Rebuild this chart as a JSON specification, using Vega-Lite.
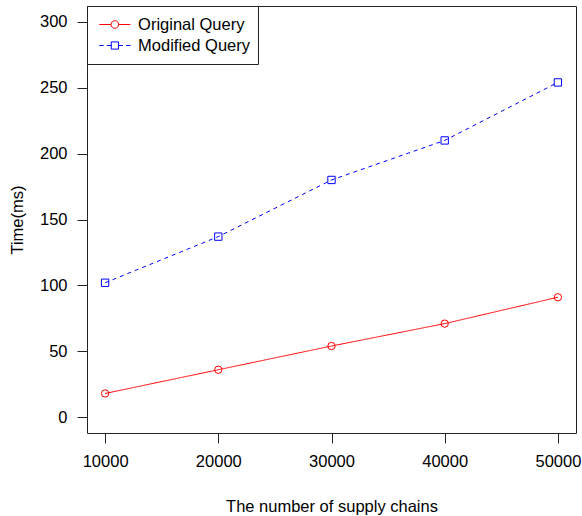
{
  "$schema": "https://vega.github.io/schema/vega-lite/v6.json",
  "width": 489,
  "height": 427,
  "autosize": {"type": "none"},
  "padding": {"left": 87, "top": 6, "right": 6, "bottom": 83},
  "background": "white",
  "config": {
    "font": "Liberation Sans",
    "view": {"stroke": "#222", "strokeWidth": 1},
    "axis": {
      "grid": false,
      "domain": false,
      "tickColor": "#222",
      "tickSize": 10,
      "labelFont": "Liberation Sans",
      "labelFontSize": 16.5,
      "labelColor": "#000",
      "titleFont": "Liberation Sans",
      "titleFontSize": 16.5,
      "titleFontWeight": "normal",
      "titleColor": "#000"
    },
    "legend": {
      "orient": "top-left",
      "offset": 0,
      "padding": 8,
      "strokeColor": "#222",
      "fillColor": "white",
      "labelFont": "Liberation Sans",
      "labelFontSize": 16.5,
      "labelColor": "#000",
      "labelLimit": 300,
      "symbolSize": 64,
      "symbolStrokeWidth": 1,
      "symbolOffset": 11.6,
      "labelOffset": 15,
      "rowPadding": 0,
      "clipHeight": 21
    }
  },
  "data": {
    "values": [
      {"series": "Original Query", "n": 10000, "time": 18},
      {"series": "Original Query", "n": 20000, "time": 36},
      {"series": "Original Query", "n": 30000, "time": 54},
      {"series": "Original Query", "n": 40000, "time": 71},
      {"series": "Original Query", "n": 50000, "time": 91},
      {"series": "Modified Query", "n": 10000, "time": 102},
      {"series": "Modified Query", "n": 20000, "time": 137},
      {"series": "Modified Query", "n": 30000, "time": 180},
      {"series": "Modified Query", "n": 40000, "time": 210},
      {"series": "Modified Query", "n": 50000, "time": 254}
    ]
  },
  "encoding": {
    "x": {
      "field": "n",
      "type": "quantitative",
      "scale": {"domain": [8400, 51600], "nice": false, "zero": false},
      "axis": {
        "title": "The number of supply chains",
        "values": [10000, 20000, 30000, 40000, 50000],
        "format": "d",
        "labelFlush": false,
        "labelOverlap": false,
        "labelPadding": 10,
        "titlePadding": 29
      }
    },
    "y": {
      "field": "time",
      "type": "quantitative",
      "scale": {"domain": [-12, 312], "nice": false, "zero": false},
      "axis": {
        "title": "Time(ms)",
        "values": [0, 50, 100, 150, 200, 250, 300],
        "labelPadding": 10,
        "titlePadding": 14
      }
    }
  },
  "layer": [
    {
      "mark": {"type": "line", "strokeWidth": 1},
      "encoding": {
        "stroke": {
          "field": "series",
          "type": "nominal",
          "scale": {"domain": ["Modified Query", "Original Query"], "range": ["#0000FF", "#FF0000"]},
          "legend": null
        },
        "strokeDash": {
          "field": "series",
          "type": "nominal",
          "scale": {"domain": ["Modified Query", "Original Query"], "range": [[4, 4], [1, 0]]},
          "legend": null
        }
      }
    },
    {
      "mark": {"type": "point", "filled": false, "strokeWidth": 1, "size": 54, "opacity": 1},
      "encoding": {
        "color": {
          "field": "series",
          "type": "nominal",
          "scale": {"domain": ["Original Query", "Modified Query"], "range": ["#FF0000", "#0000FF"]},
          "legend": {
            "title": null,
            "symbolType": {"expr": "datum.value === 'Original Query' ? 'M-3.9,0L-0.95,0M0.95,0L3.9,0M-0.95,0A0.95,0.95,0,1,0,0.95,0A0.95,0.95,0,1,0,-0.95,0' : 'M-3.9,0L-2.8,0M-2,0L-0.9,0M-0.9,-0.9L0.9,-0.9L0.9,0.9L-0.9,0.9ZM0.9,0L2,0M2.8,0L3.9,0'"}
          }
        },
        "shape": {
          "field": "series",
          "type": "nominal",
          "scale": {"domain": ["Modified Query", "Original Query"], "range": ["square", "circle"]},
          "legend": null
        }
      }
    }
  ]
}
